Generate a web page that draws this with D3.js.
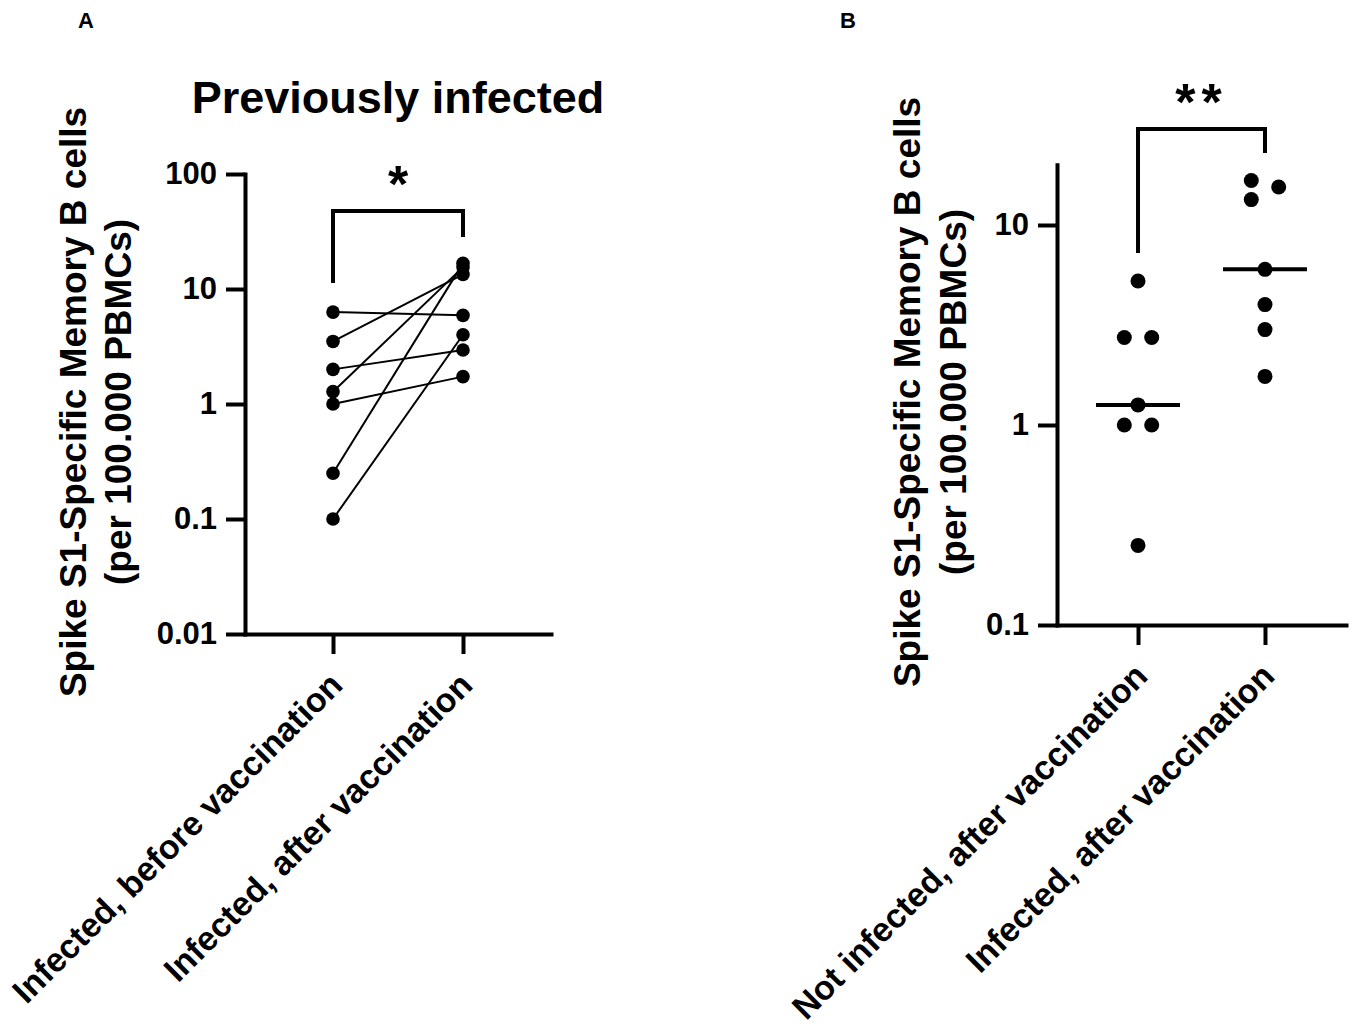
<!DOCTYPE html>
<html lang="en">
<head>
  <meta charset="UTF-8" />
  <title>Spike S1-Specific Memory B cells</title>
  <script src="https://cdn.jsdelivr.net/npm/d3@7"></script>
  <style>
    body
      {
      margin: 0;
      background-color: #ffffff;
      }
    svg text
      {
      font-family: "Liberation Sans", Arial, sans-serif;
      font-weight: bold;
      fill: #000;
      }
  </style>
</head>
<body>
<div id="chart"></div>

<script>
// ---- data ----
const panelACategories = ["Infected, before vaccination", "Infected, after vaccination"];
const beforeVaccination = [6.3, 3.5, 2.0, 1.28, 1.0, 0.25, 0.1];
const afterVaccinationPaired = [5.9, 13.4, 2.95, 15.5, 1.73, 16.7, 4.0];
const panelATicks = [0.01, 0.1, 1, 10, 100];

const panelBCategories = ["Not infected, after vaccination", "Infected, after vaccination"];
const notInfectedAfter = [5.25, 2.74, 2.74, 1.26, 1.0, 1.0, 0.25];
const infectedAfter = [16.7, 15.5, 13.4, 6.0, 4.0, 3.0, 1.75];
const panelBTicks = [0.1, 1, 10];

const panelATitle = "Previously infected";
const yTitleLines = ["Spike S1-Specific Memory B cells", "(per 100.000 PBMCs)"];
const starsA = "*";
const starsB = "**";

const W = 1358, H = 1029;

const svg = d3.select("#chart")
  .append("svg")
  .attr("width", W)
  .attr("height", H);

function styleAxis(g) {
  g.select(".domain").attr("stroke", "#000").attr("stroke-width", 4).attr("stroke-linecap", "square");
  g.selectAll(".tick line").attr("stroke", "#000").attr("stroke-width", 4);
  g.selectAll(".tick text").attr("fill", "#000");
}

function drawAxes(x, y, ticks) {
  const y0 = y.range()[0];
  const x0 = x.range()[0];

  const yAxis = svg.append("g")
    .attr("transform", `translate(${x0},0)`)
    .call(d3.axisLeft(y).tickValues(ticks).tickFormat(d => String(d))
      .tickSize(19).tickSizeOuter(0).tickPadding(9));
  yAxis.selectAll("text").style("font-size", "31px");
  styleAxis(yAxis);

  const xAxis = svg.append("g")
    .attr("transform", `translate(0,${y0})`)
    .call(d3.axisBottom(x).tickSize(20).tickSizeOuter(0));
  styleAxis(xAxis);
  xAxis.selectAll(".tick text")
    .attr("y", 0).attr("dy", 0)
    .attr("text-anchor", "end")
    .attr("transform", "translate(11,53) rotate(-45)")
    .style("font-size", "34px");
}

function drawYTitle(cx, cy, gap) {
  yTitleLines.forEach((t, i) => {
    svg.append("text")
      .attr("transform", `translate(${cx + i * gap},${cy}) rotate(-90)`)
      .attr("text-anchor", "middle")
      .style("font-size", "37px")
      .text(t);
  });
}

function drawBracket(x1, x2, yLeft, yRight, yTop, label) {
  svg.append("path")
    .attr("d", `M${x1},${yLeft}V${yTop}H${x2}V${yRight}`)
    .attr("fill", "none")
    .attr("stroke", "#000")
    .attr("stroke-width", 4);
  svg.append("text")
    .attr("x", (x1 + x2) / 2)
    .attr("y", yTop - 9)
    .attr("text-anchor", "middle")
    .attr("letter-spacing", label.length > 1 ? 6 : 0)
    .style("font-size", "52px")
    .text(label);
}

// ---- panel labels ----
svg.append("text").attr("x", 78).attr("y", 28).style("font-size", "22px").text("A");
svg.append("text").attr("x", 840).attr("y", 28).style("font-size", "22px").text("B");

// ---- panel A ----
const xA = d3.scalePoint().domain(panelACategories).range([245, 551]).padding(0.677);
const yA = d3.scaleLog().domain([0.01, 100]).range([634, 174]);

svg.append("text")
  .attr("x", 398).attr("y", 113)
  .attr("text-anchor", "middle")
  .style("font-size", "45px")
  .text(panelATitle);

drawYTitle(86, 402, 45);
drawAxes(xA, yA, panelATicks);

const pairs = beforeVaccination.map((v, i) => ({ before: v, after: afterVaccinationPaired[i] }));

svg.append("g").selectAll("line")
  .data(pairs)
  .join("line")
  .attr("x1", xA(panelACategories[0]))
  .attr("x2", xA(panelACategories[1]))
  .attr("y1", d => yA(d.before))
  .attr("y2", d => yA(d.after))
  .attr("stroke", "#000")
  .attr("stroke-width", 2);

const dotsA = pairs.flatMap(d => [
  { cat: panelACategories[0], v: d.before },
  { cat: panelACategories[1], v: d.after }
]);
svg.append("g").selectAll("circle")
  .data(dotsA)
  .join("circle")
  .attr("cx", d => xA(d.cat))
  .attr("cy", d => yA(d.v))
  .attr("r", 6.8)
  .attr("fill", "#000");

drawBracket(xA(panelACategories[0]), xA(panelACategories[1]), 283, 237, 211, starsA);

// ---- panel B ----
const xB = d3.scalePoint().domain(panelBCategories).range([1057, 1346]).padding(0.638);
const yB = d3.scaleLog().domain([0.1, 20]).range([625, 625 - 200 * Math.log10(200)]);

drawYTitle(920, 392, 46);
drawAxes(xB, yB, panelBTicks);

// spread dots that would overlap, alternating left/right (scatter dot plot)
function spread(values, y, r, d) {
  const sorted = values.map(v => ({ v })).sort((a, b) => b.v - a.v);
  let cluster = [];
  const out = [];
  const flush = () => {
    cluster.forEach((p, i) => {
      p.dx = cluster.length === 1 ? 0 : (i % 2 === 0 ? -d : d);
      out.push(p);
    });
    cluster = [];
  };
  sorted.forEach(p => {
    if (cluster.length && Math.abs(y(p.v) - y(cluster[cluster.length - 1].v)) >= 2 * r) flush();
    cluster.push(p);
  });
  flush();
  return out;
}

const groupsB = [notInfectedAfter, infectedAfter];
groupsB.forEach((vals, gi) => {
  const cat = panelBCategories[gi];
  const cx = xB(cat);
  const pts = spread(vals, yB, 7.5, 13.7);

  svg.append("g").selectAll("circle")
    .data(pts)
    .join("circle")
    .attr("cx", d => cx + d.dx)
    .attr("cy", d => yB(d.v))
    .attr("r", 7.5)
    .attr("fill", "#000");

  const med = d3.median(vals);
  svg.append("line")
    .attr("x1", cx - 42).attr("x2", cx + 42)
    .attr("y1", yB(med)).attr("y2", yB(med))
    .attr("stroke", "#000")
    .attr("stroke-width", 4);
});

drawBracket(xB(panelBCategories[0]), xB(panelBCategories[1]), 253, 153, 129, starsB);
</script>
</body>
</html>
